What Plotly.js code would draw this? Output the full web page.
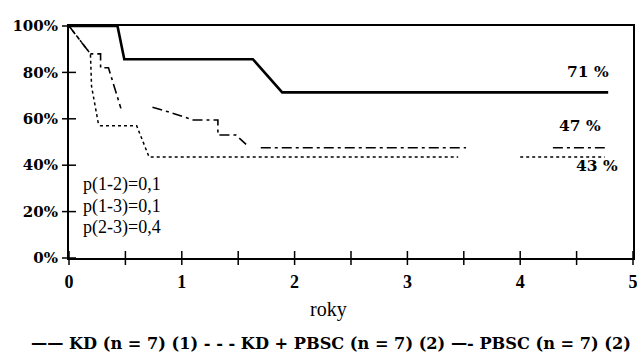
<!DOCTYPE html>
<html><head><meta charset="utf-8">
<script src="https://cdn.plot.ly/plotly-3.0.1.min.js"></script>
<style>html,body{margin:0;padding:0;background:#fff}#chart{width:637px;height:353px}</style>
</head><body><div id="chart"></div>
<script>
// Kaplan-Meier style curves (years vs %)
var kdX = [0, 0.43, 0.49, 1.63, 1.89, 4.78];
var kdY = [100, 100, 85.7, 85.7, 71.4, 71.4];

var kdPbscX = [0, 0.19, 0.2, 0.26, 0.28, 0.6, 0.71, 3.45, null, 4.0, 4.75];
var kdPbscY = [100, 88, 74, 58, 57, 57, 43.5, 43.5, null, 43.5, 43.5];

var pbscX = [0, 0.19, 0.28, 0.28, 0.35, 0.46, null, 0.74, 0.88, 1.1, 1.32, 1.32, 1.48, 1.57, null, 1.7, 3.52, null, 4.29, 4.75];
var pbscY = [100, 88, 88, 82, 82, 64.5, null, 65, 63, 59.5, 59.5, 53, 53, 49, null, 47.5, 47.5, null, 47.5, 47.5];

var yTicks = [0, 20, 40, 60, 80, 100];
var yTickText = ['0%', '20%', '40%', '60%', '80%', '100%'];
var xTicks = [0, 0.5, 1, 1.5, 2, 2.5, 3, 3.5, 4, 4.5, 5];
var xTickText = ['0', '', '1', '', '2', '', '3', '', '4', '', '5'];

var endLabels = ['71 %', '47 %', '43 %'];
var pValues = ['p(1-2)=0,1', 'p(1-3)=0,1', 'p(2-3)=0,4'];
var xTitle = 'roky';
var legendText = '\u2014\u2014 KD (n = 7) (1) - - - KD + PBSC (n = 7) (2) \u2014- PBSC (n = 7) (2)';

var serif = 'Liberation Serif';
var serifB = 'DejaVu Serif';
var traces = [
  {x: kdX, y: kdY, mode: 'lines', line: {color: '#000', width: 2.6}, connectgaps: false},
  {x: kdPbscX, y: kdPbscY, mode: 'lines', line: {color: '#000', width: 1.5, dash: '3px,3px'}, connectgaps: false},
  {x: pbscX, y: pbscY, mode: 'lines', line: {color: '#000', width: 1.6, dash: '10px,4px,3px,4px'}, connectgaps: false},
  // crossing tick marks at axis tick positions
  {x: xTicks, y: xTicks.map(function(){return 0;}), mode: 'markers', cliponaxis: false,
    marker: {symbol: 'line-ns-open', size: 10, color: '#000', line: {color: '#000', width: 1.5}}},
  {x: yTicks.map(function(){return 0;}), y: yTicks, mode: 'markers', cliponaxis: false,
    marker: {symbol: 'line-ew-open', size: 10, color: '#000', line: {color: '#000', width: 1.5}}}
];

var ann = [
  {x: 4.6, y: 80.6, text: endLabels[0]},
  {x: 4.53, y: 57.3, text: endLabels[1]},
  {x: 4.68, y: 39.7, text: endLabels[2]}
].map(function(a){return {x:a.x, y:a.y, xref:'x', yref:'y', text:a.text, showarrow:false,
  font:{family:serifB, size:15.5, color:'#000', weight: 'bold'}};});

pValues.forEach(function(t, i){
  ann.push({x: 0.11, y: 31.7 - i*9.3, xref:'x', yref:'y', text: t, showarrow:false, xanchor:'left',
    font:{family:serif, size:18, color:'#000'}});
});
ann.push({x: 2.3, y: 0, xref:'x', yref:'y', yshift: -51, text: xTitle, showarrow:false,
  font:{family:serif, size:20, color:'#000'}});
ann.push({x: 0.465, y: 0, xref:'paper', yref:'paper', yshift:-97, text: legendText, showarrow:false,
  xanchor:'center', font:{family:serifB, size:16.2, color:'#000', weight: 'bold'}});

var layout = {
  width: 637, height: 353,
  margin: {l: 69, r: 4, t: 26, b: 95},
  paper_bgcolor: '#fff', plot_bgcolor: '#fff',
  showlegend: false,
  font: {family: serif, color: '#000'},
  xaxis: {range: [0, 5], tickvals: xTicks, ticktext: xTickText, ticks: '', ticklabeloverflow: 'allow',
    showline: true, linewidth: 2, linecolor: '#000', mirror: true,
    showgrid: false, zeroline: false, fixedrange: true, ticklabelstandoff: 6,
    tickfont: {family: serif, size: 18, color: '#000', weight: 'bold'}},
  yaxis: {range: [0, 100], tickvals: yTicks, ticktext: yTickText, ticks: '', ticklabelstandoff: 6,
    showline: true, linewidth: 2, linecolor: '#000', mirror: true,
    showgrid: false, zeroline: false, fixedrange: true,
    tickfont: {family: serifB, size: 15, color: '#000', weight: 'bold'}},
  annotations: ann
};
Plotly.newPlot('chart', traces, layout, {staticPlot: true});
</script></body></html>
